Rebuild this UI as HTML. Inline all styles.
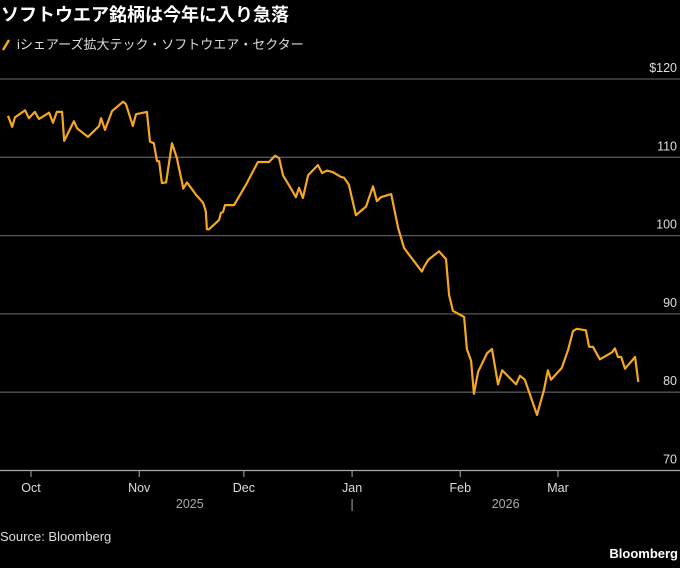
<!DOCTYPE html>
<html><head><meta charset="utf-8">
<style>
body{margin:0;background:#000;width:680px;height:563px;overflow:hidden;font-family:"Liberation Sans","Noto Sans CJK JP",sans-serif;}
svg text{font-family:"Liberation Sans Narrow","Liberation Sans","Noto Sans CJK JP",sans-serif;}
</style></head>
<body>
<svg width="680" height="563" viewBox="0 0 680 563">
<text x="1" y="21" fill="#fff" font-size="18" font-weight="bold" style="font-family:'Liberation Sans','Noto Sans CJK JP',sans-serif">ソフトウエア銘柄は今年に入り急落</text>
<line x1="3" y1="50" x2="9" y2="40" stroke="#f5a623" stroke-width="2.5"/>
<text x="17" y="49" fill="#ddd" font-size="13" style="font-family:'Liberation Sans','Noto Sans CJK JP',sans-serif">iシェアーズ拡大テック・ソフトウエア・セクター</text>
<g id="grid"></g>
<g id="xaxis"></g>
<path id="line" fill="none" stroke="#f5a623" stroke-width="2.2" stroke-linejoin="round"/>
<text x="0" y="541" fill="#ddd" font-size="13">Source: Bloomberg</text>
<text x="678" y="558" fill="#fff" font-size="13" font-weight="bold" text-anchor="end">Bloomberg</text>
</svg>
<script>
const dayOffsets=[-6.6,-5.4,-4.6,-1.7,-0.6,1.1,2.3,5.2,6.3,7.4,8.9,9.5,12.3,13.2,16.3,19.5,20.1,21.2,23.2,26.4,27.2,29.2,30.1,33.2,34.1,35.2,36.1,36.7,37.5,38.7,40.4,41.8,42.4,43.3,43.6,44.7,47.3,49.3,50.1,50.4,51.0,53.9,54.4,55.0,55.6,58.2,61.6,65.0,68.2,69.9,71.1,72.2,74.5,75.9,76.8,77.9,79.4,82.2,83.4,84.8,86.5,88.8,89.7,91.1,93.1,96.0,98.0,99.1,100.3,103.2,105.2,106.9,112.0,112.6,113.8,116.9,118.9,119.8,120.9,124.1,124.9,126.1,126.9,128.1,130.7,132.1,133.8,135.0,139.0,140.1,141.5,145.0,147.0,148.1,149.0,152.1,153.9,155.3,156.4,159.0,159.9,161.0,163.0,166.5,167.3,168.2,169.1,170.2,173.1,174.0];
const prices=[115.3,113.9,115.1,116.0,115.0,115.8,114.9,115.7,114.4,115.8,115.8,112.1,114.6,113.7,112.6,114.0,115.0,113.5,115.9,117.1,116.8,114.0,115.5,115.8,112.0,111.8,109.5,109.5,106.7,106.8,111.8,109.9,108.6,106.8,106.0,106.8,105.2,104.2,103.1,100.8,100.8,102.0,102.9,103.0,103.9,103.9,106.5,109.4,109.4,110.2,109.9,107.7,106.0,104.9,106.1,104.8,107.7,109.0,108.0,108.3,108.1,107.5,107.4,106.5,102.6,103.7,106.3,104.4,104.9,105.3,101.0,98.4,95.4,96.0,96.9,98.0,97.0,92.4,90.4,89.6,85.5,84.0,79.8,82.6,85.0,85.5,81.0,82.8,81.0,82.1,81.6,77.1,80.3,82.8,81.6,83.1,85.4,87.8,88.1,87.9,85.8,85.8,84.2,85.1,85.6,84.5,84.5,83.0,84.5,81.3];
const yTicks=[120,110,100,90,80,70];
const yTickLabels=["$120","110","100","90","80","70"];
const monthLabels=["Oct","Nov","Dec","Jan","Feb","Mar"];
const monthDays=[0,31,61,92,123,151];
const yearLabels=["2025","2026"];
const yearDays=[45.5,136];
const X=d=>31+d*3.49;
const Y=v=>79+(120-v)*7.83;
const NS="http://www.w3.org/2000/svg";
function mk(tag,attrs,parent){const e=document.createElementNS(NS,tag);for(const k in attrs)e.setAttribute(k,attrs[k]);parent.appendChild(e);return e;}
const grid=document.getElementById('grid');
yTicks.forEach((v,i)=>{
  const base=v===70;
  const l=mk('line',{x1:0,x2:680,y1:Y(v),y2:Y(v),stroke:base?'#aaa':'#555','stroke-width':1.3},grid);
  
  
  const t=mk('text',{x:677,y:Y(v)-7,fill:'#ddd','font-size':12.5,'text-anchor':'end'},grid);
  t.textContent=yTickLabels[i];
  
  
});
const xa=document.getElementById('xaxis');
monthDays.forEach((d,i)=>{
  const tk=mk('line',{x1:X(d),x2:X(d),y1:471,y2:477,stroke:'#aaa','stroke-width':1},xa);
  
  
  const t=mk('text',{x:X(d),y:492,fill:'#ddd','font-size':12.5,'text-anchor':'middle'},xa);
  t.textContent=monthLabels[i];
  
  
});
yearDays.forEach((d,i)=>{
  const t=mk('text',{x:X(d),y:508,fill:'#aaa','font-size':12.5,'text-anchor':'middle'},xa);
  t.textContent=yearLabels[i];
  
  
});
const sep=mk('line',{x1:X(92),x2:X(92),y1:499,y2:511,stroke:'#aaa','stroke-width':1},xa);


document.getElementById('line').setAttribute('d',prices.map((v,i)=>(i?'L':'M')+X(dayOffsets[i]).toFixed(1)+','+Y(v).toFixed(1)).join(''));
</script>
</body></html>
